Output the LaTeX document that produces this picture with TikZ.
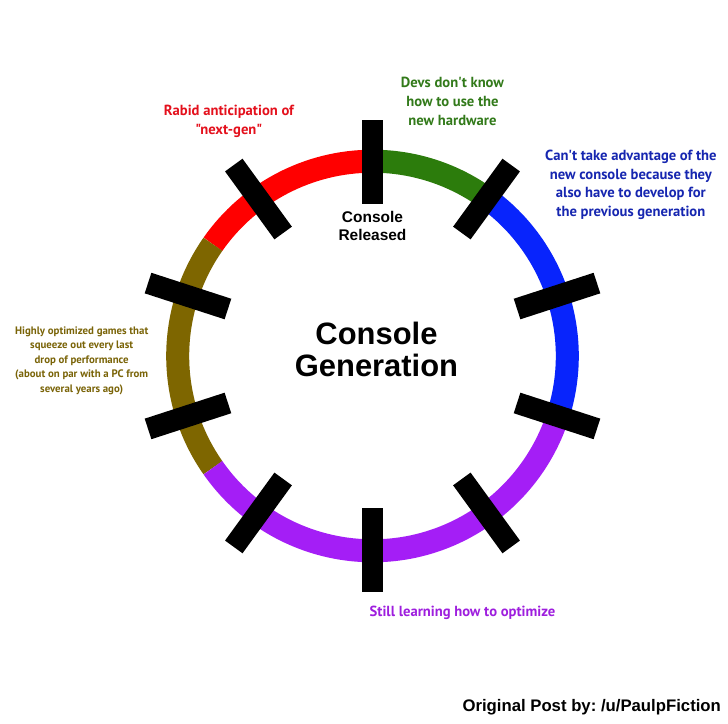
\documentclass[tikz,border=0pt]{standalone}
\usepackage{fontspec}
\setmainfont{Liberation Sans}
\newfontfamily\lblfont{PT Sans}
\usepackage{xcolor}
\usepackage{tikz}
\usetikzlibrary{positioning}
\frenchspacing

\definecolor{ringred}{RGB}{255,0,0}
\definecolor{ringgreen}{RGB}{44,124,12}
\definecolor{ringblue}{RGB}{8,36,252}
\definecolor{ringolive}{RGB}{126,102,0}
\definecolor{ringpurple}{RGB}{164,30,246}
\definecolor{txtred}{RGB}{228,16,28}
\definecolor{txtgreen}{RGB}{50,122,26}
\definecolor{txtblue}{RGB}{22,38,176}
\definecolor{txtolive}{RGB}{122,100,8}
\definecolor{txtpurple}{RGB}{158,30,222}

\begin{document}
\begin{tikzpicture}[
        seg/.style={line width=0.575cm},
        tick/.style={fill=black, inner sep=0pt, minimum width=2.1cm, minimum height=0.54cm},
        lbl/.style={align=center, font=\lblfont\bfseries\fontsize{10.4}{13.4}\selectfont},
        head/.style={align=center, font=\bfseries\fontsize{22}{23}\selectfont}
        ]
        \useasboundingbox[fill=white] (-9.3125,-9.2) rectangle (8.8875,8.9);

        % coloured ring
        \draw[seg, ringred]    (90:4.87)  arc[start angle=90,  end angle=145, radius=4.87];
        \draw[seg, ringolive]  (145:4.87) arc[start angle=145, end angle=215, radius=4.87];
        \draw[seg, ringpurple] (215:4.87) arc[start angle=215, end angle=342, radius=4.87];
        \draw[seg, ringblue]   (-18:4.87) arc[start angle=-18, end angle=54,  radius=4.87];
        \draw[seg, ringgreen]  (54:4.87)  arc[start angle=54,  end angle=90,  radius=4.87];

        % tick marks, every 36 degrees
        \foreach \a [count=\i] in {90,54,18,-18,-54,-90,-126,-162,162,126} {
                \node[tick, rotate=\a] (t\i) at (\a:4.85) {};
            }

        \node[head] (gen) at (0.1,0.17) {Console\\Generation};
        \node[align=center, font=\bfseries\fontsize{11}{12.2}\selectfont] (rel) at (0,3.25) {Console\\Released};

        \node[lbl, txtred]   (hype) at (-3.59,5.86) {Rabid anticipation of\\"next-gen"};
        \node[lbl, txtgreen] (devs) at (2.0,6.36)   {Devs don't know\\how to use the\\new hardware};
        \node[lbl, txtblue]  (prev) at (6.46,4.28)  {Can't take advantage of the\\new console because they\\also have to develop for\\the previous generation};
        \node[lbl, txtpurple] (learn) at (2.25,-6.42) {Still learning how to optimize};
        \node[lbl, txtolive, font=\lblfont\bfseries\fontsize{7.7}{10.3}\selectfont] (peak) at (-7.27,-0.12)
            {Highly optimized games that\\squeeze out every last\\drop of performance\\(about on par with a PC from\\several years ago)};

        \node[font=\bfseries\fontsize{11.9}{13}\selectfont] (credit) at (5.48,-8.77) {Original Post by: /u/PaulpFiction};
    \end{tikzpicture}
\end{document}
